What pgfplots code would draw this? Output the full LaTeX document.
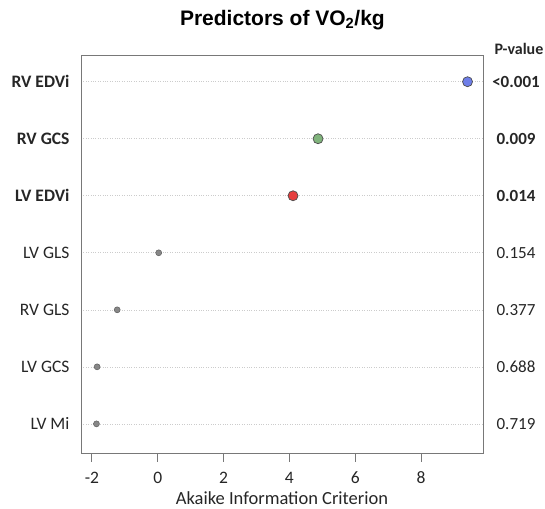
\documentclass[border=0pt]{standalone}
\usepackage{pgfplots}
\pgfplotsset{compat=1.18}
\usepackage{fontspec}
\setmainfont{Carlito}
\newfontfamily\arial{Liberation Sans}
\definecolor{ptblue}{RGB}{110,126,232}
\definecolor{ptgreen}{RGB}{128,180,124}
\definecolor{ptred}{RGB}{230,62,62}
\definecolor{ptgrey}{RGB}{135,135,135}
\definecolor{frame}{RGB}{120,120,120}
\begin{document}
\begin{tikzpicture}[x=1pt,y=1pt]
\begin{axis}[
  at={(0,0)}, anchor=south west,
  scale only axis, width=402pt, height=398pt,
  xmin=-2.33, xmax=9.88, ymin=0.48, ymax=7.46,
  axis line style={draw=frame, line width=0.9pt},
  xtick={-2,0,2,4,6,8}, xtick pos=bottom, tick align=outside, major tick length=8pt,
  xtick style={draw=frame, line width=0.9pt},
  ytick={1,2,3,4,5,6,7},
  yticklabels={LV Mi, LV GCS, RV GLS, LV GLS, \textbf{LV EDVi}, \textbf{RV GCS}, \textbf{RV EDVi}},
  ytick style={draw=none},
  ymajorgrids, grid style={dotted, gray!40, line width=0.6pt},
  ticklabel style={font=\fontsize{17.5}{21}\selectfont, text=black!85},
  /pgf/number format/assume math mode=true,
  xticklabel style={yshift=-7pt},
  yticklabel style={xshift=0pt},
  xlabel={Akaike Information Criterion},
  xlabel style={font=\fontsize{18.5}{22}\selectfont, text=black!85, yshift=-1pt},
  clip=false,
]
\addplot[only marks, mark=*, mark size=3pt, mark options={fill=ptgrey, draw=ptgrey!70!black, line width=0.5pt}]
  coordinates {(0.03,4) (-1.23,3) (-1.84,2) (-1.86,1)};
\addplot[only marks, mark=*, mark size=5pt, mark options={fill=ptblue, draw=black!70, line width=0.7pt}]
  coordinates {(9.41,7)};
\addplot[only marks, mark=*, mark size=5pt, mark options={fill=ptgreen, draw=black!70, line width=0.7pt}]
  coordinates {(4.87,6)};
\addplot[only marks, mark=*, mark size=5pt, mark options={fill=ptred, draw=black!70, line width=0.7pt}]
  coordinates {(4.11,5)};
\end{axis}
\begin{scope}[every node/.style={font=\fontsize{17}{20}\selectfont, text=black!85}]
\node at (435,{398*(7-0.48)/6.98}) {\textbf{<0.001}};
\node at (435,{398*(6-0.48)/6.98}) {\textbf{0.009}};
\node at (435,{398*(5-0.48)/6.98}) {\textbf{0.014}};
\node at (435,{398*(4-0.48)/6.98}) {0.154};
\node at (435,{398*(3-0.48)/6.98}) {0.377};
\node at (435,{398*(2-0.48)/6.98}) {0.688};
\node at (435,{398*(1-0.48)/6.98}) {0.719};
\end{scope}
\node[font=\fontsize{16}{19}\selectfont\bfseries, anchor=east, text=black!85, inner sep=1pt] at (463.5,405) {P-value};
\node[font=\arial\bfseries\fontsize{21}{24}\selectfont] at (201.4,433) {Predictors of VO\textsubscript{2}/kg};
\pgfresetboundingbox
\path (-81,-54.5) rectangle (464,453.5);
\end{tikzpicture}
\end{document}
